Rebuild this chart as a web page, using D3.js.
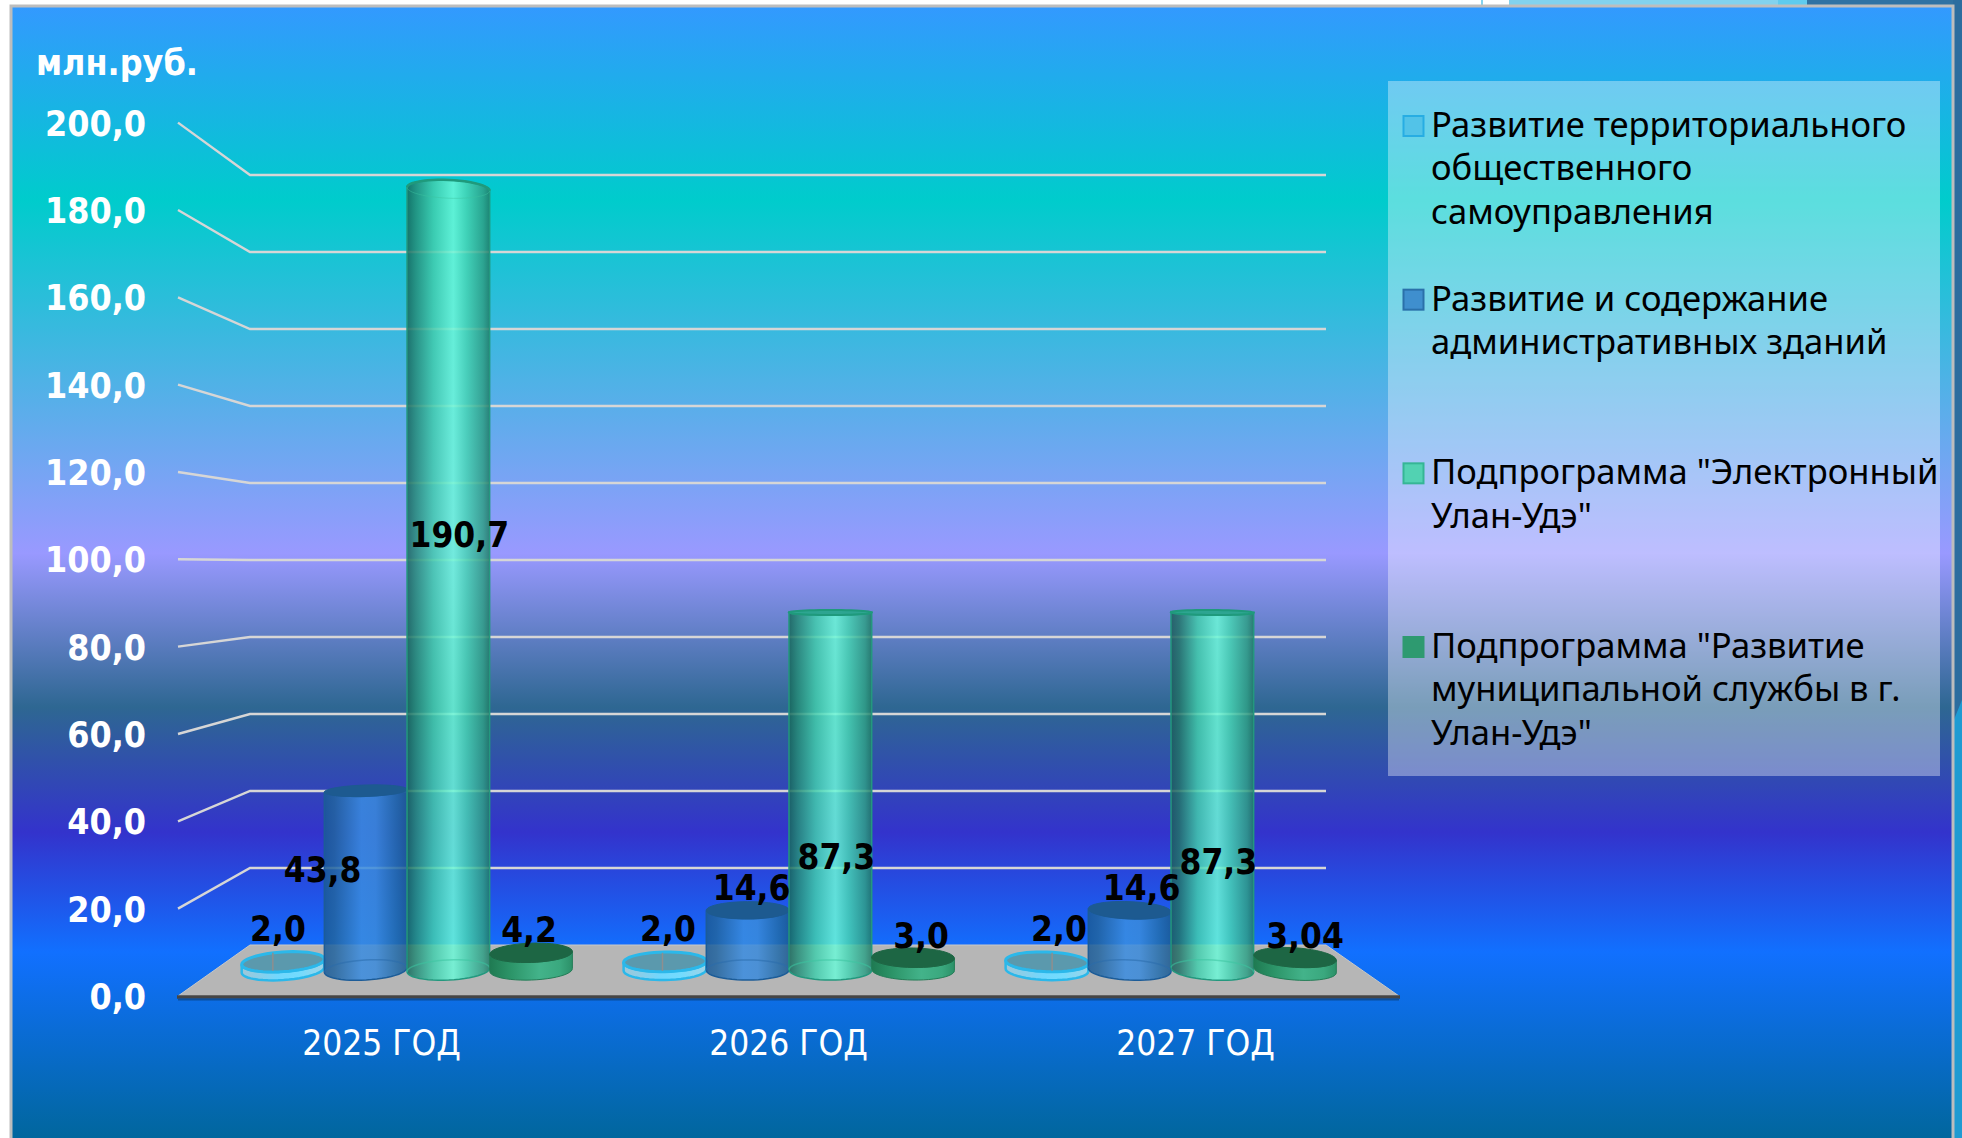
<!DOCTYPE html>
<html lang="ru"><head><meta charset="utf-8">
<script src="https://cdn.jsdelivr.net/npm/d3@7"></script>
<style>html,body{margin:0;padding:0;background:#fff;overflow:hidden}svg{display:block}
text{font-family:"DejaVu Sans Condensed","DejaVu Sans",sans-serif}</style></head><body>
<svg id="c" width="1962" height="1138"></svg>
<script>
const categories=["2025 ГОД","2026 ГОД","2027 ГОД"];
const seriesNames=["territorial","buildings","electronic","service"];
const territorial=[2.0,2.0,2.0];
const buildings=[43.8,14.6,14.6];
const electronic=[190.7,87.3,87.3];
const service=[4.2,3.0,3.04];
const territorialLabels=["2,0","2,0","2,0"];
const buildingsLabels=["43,8","14,6","14,6"];
const electronicLabels=["190,7","87,3","87,3"];
const serviceLabels=["4,2","3,0","3,04"];
const yTicks=[0,20,40,60,80,100,120,140,160,180,200];
const yTickLabels=["0,0","20,0","40,0","60,0","80,0","100,0","120,0","140,0","160,0","180,0","200,0"];
const unitLabel="млн.руб.";
const legendLines=[["Развитие территориального","общественного","самоуправления"],
 ["Развитие и содержание","административных зданий"],
 ["Подпрограмма \"Электронный","Улан-Удэ\""],
 ["Подпрограмма \"Развитие","муниципальной службы в г.","Улан-Удэ\""]];
const values=[territorial,buildings,electronic,service];
const barLabels=[territorialLabels,buildingsLabels,electronicLabels,serviceLabels];

// hand-placed label offsets of the original slide, relative to the bar top centre
const labelNudge=[[[-4,-21],[4,-21],[13,-21]],[[-42,91],[5,-10],[13,-10]],[[12,358],[7,256],[7,261]],[[-1,-11],[9,-10],[11,-10]]];

const FONT_TICK=35.5, FONT_LEG=34.6, FONT_DATA=35, FONT_CAT=35;
const svg=d3.select("#c"),defs=svg.append("defs");
const panel={x:11,y:6,w:1942,h:1140};
// outside fragments
svg.append("rect").attr("x",1481).attr("y",0).attr("width",2).attr("height",8).attr("fill","#82d2ee");
svg.append("rect").attr("x",1509).attr("y",0).attr("width",290).attr("height",8).attr("fill","#82d2ee");
svg.append("rect").attr("x",1778).attr("y",0).attr("width",30).attr("height",8).attr("fill","#5fcbee");
svg.append("rect").attr("x",1807).attr("y",0).attr("width",155).attr("height",8).attr("fill","#2f72a3");
svg.append("rect").attr("x",1953).attr("y",0).attr("width",9).attr("height",730).attr("fill","#2c6d9f");
svg.append("path").attr("d","M1953,722L1962,700L1962,1138L1953,1138Z").attr("fill","#1f9bd2");
const bg=defs.append("linearGradient").attr("id","bg").attr("x1",0).attr("x2",0).attr("y1",0).attr("y2",1);
[[0,"#3399ff"],[.17,"#00cccc"],[.48,"#9999ff"],[.615,"#2e6792"],[.725,"#3333cc"],[.83,"#1170ff"],[1,"#006699"]]
 .forEach(([o,c])=>bg.append("stop").attr("offset",o).attr("stop-color",c));
svg.append("rect").attr("x",panel.x).attr("y",panel.y).attr("width",panel.w).attr("height",panel.h).attr("fill","url(#bg)")
 .attr("stroke","#bdbdbd").attr("stroke-width",3);

// three scales for the perspective box
const yFront=d3.scaleLinear().domain([0,200]).range([996,122.6]);
const yBack=d3.scaleLinear().domain([0,200]).range([945,175]);
const yBar=d3.scaleLinear().domain([0,200]).range([970,151]);
const frontL=178,frontR=1399,backL=250,backR=1326,vanishX=788;
const horizon=yBar(100);
const x0=d3.scaleBand().domain(categories).range([216,1362]).paddingInner(.134).paddingOuter(.067);
const x1=d3.scaleBand().domain(seriesNames).range([0,x0.bandwidth()]);
const xCat=d3.scaleBand().domain(categories).range([frontL,frontR]);

// floor
svg.append("path").attr("d",`M${frontL},${yFront(0)}L${frontR},${yFront(0)}L${backR},${yBack(0)}L${backL},${yBack(0)}Z`)
 .attr("fill","#b6b6b6").attr("stroke","#c8c8c8").attr("stroke-width",1);
svg.append("line").attr("x1",frontL-1).attr("x2",frontR+1).attr("y1",yFront(0)+1).attr("y2",yFront(0)+1).attr("stroke","#454545").attr("stroke-width",3.5);
svg.append("line").attr("x1",frontL).attr("x2",frontR).attr("y1",yFront(0)+3.5).attr("y2",yFront(0)+3.5).attr("stroke","#0b4f9e").attr("stroke-width",2);
// gridlines
svg.append("g").selectAll("path").data(yTicks.filter(d=>d>0)).join("path")
 .attr("d",d=>`M${frontL},${yFront(d)}L${backL},${yBack(d)}L${backR},${yBack(d)}`)
 .attr("fill","none").attr("stroke","#d6d6d6").attr("stroke-width",2.4);

// gradients
const G={
 territorial:[[0,"#9fc7d8"],[.45,"#6fd8ff"],[.7,"#72dcff"],[1,"#9fd3e6"]],
 buildings:[[0,"#1a5a97"],[.12,"#22649f"],[.45,"#3a8ce0"],[.62,"#3a8adb"],[.88,"#226aa8"],[1,"#1c5a92"]],
 electronic:[[0,"#17665a"],[.1,"#258a76"],[.32,"#42ccac"],[.56,"#6cf8d8"],[.72,"#48d4b4"],[.92,"#2f9f86"],[1,"#217a66"]],
 service:[[0,"#1f7a52"],[.25,"#2c9468"],[.6,"#43b38a"],[.85,"#3aa87e"],[1,"#2c9068"]]
};
seriesNames.forEach((s,i)=>categories.forEach((c,j)=>{
 const g=defs.append("linearGradient").attr("id",`g${i}${j}`);
 G[s].forEach(([o,col],k)=>{
  let cc=col; if(s==="electronic"&&j===2&&k<2) cc=k?"#23746a":"#1d5a5c";
  g.append("stop").attr("offset",o).attr("stop-color",cc);
 });
}));
const STY=[
 {op:.98,edge:"#2bb8ea",ew:2.5,cap:"#5698ad",capO:.95,capE:"#2bb8ea",capW:3,base:null},
 {op:.86,edge:"#1c5c98",ew:1.5,cap:"#1d5a90",capO:1,capE:"#1d5a90",capW:1,base:"#2a6cab"},
 {op:.85,edge:"#23987e",ew:1.5,cap:"#26a98a",capO:.9,capE:"#1f9a7c",capW:2,base:"#3cc4a0"},
 {op:1,edge:"#237c56",ew:1,cap:"#1d6644",capO:1,capE:"#1d6644",capW:1,base:null}];

const rot=(x,y)=>1.93e-5*(x-vanishX)*(y-horizon);
const ryOf=y=>Math.max(2.5,.0245*Math.abs(y-horizon));
// sampled half ellipse: from the left end to the right end, through the front (side=1) or back (side=-1)
function halfEllipse(cx,cy,rx,ry,deg,side){
  const r=deg*Math.PI/180;
  return d3.range(0,25).map(k=>{
    const a=Math.PI*k/24, ex=-rx*Math.cos(a), ey=side*ry*Math.sin(a);
    return [cx+ex*Math.cos(r)-ey*Math.sin(r),cy+ex*Math.sin(r)+ey*Math.cos(r)];
  });
}
const line=d3.line();
const rx=x1.bandwidth()/2;
const gBars=svg.append("g");
const marks=[];
categories.forEach((c,j)=>seriesNames.forEach((s,i)=>{
  marks.push({c,j,s,i,v:values[i][j],label:barLabels[i][j],cx:x0(c)+x1(s)+rx,top:yBar(values[i][j])});
}));
marks.forEach(m=>{
  const st=STY[m.i],yb=yBar(0),yt=m.top,rb=rot(m.cx,yb),rt=rot(m.cx,yt),ryb=ryOf(yb),ryt=ryOf(yt);
  const above=yt<horizon;
  const botFront=halfEllipse(m.cx,yb,rx,ryb,rb,1),botBack=halfEllipse(m.cx,yb,rx,ryb,rb,-1);
  const topFront=halfEllipse(m.cx,yt,rx,ryt,rt,1),topBack=halfEllipse(m.cx,yt,rx,ryt,rt,-1);
  const topEdge=(above?topBack:topFront).slice().reverse();
  const g=gBars.append("g");
  g.append("path").attr("d",line([...botFront,...topEdge])+"Z")
   .attr("fill",`url(#g${m.i}${m.j})`).attr("fill-opacity",st.op).attr("stroke",st.edge).attr("stroke-width",st.ew);
  if(st.base) g.append("path").attr("d",line(botBack)).attr("fill","none").attr("stroke",st.base).attr("stroke-width",1.5).attr("opacity",.55);
  if(above){
    g.append("path").attr("d",line(topBack)).attr("fill","none").attr("stroke",st.capE).attr("stroke-width",2.5);
    g.append("path").attr("d",line(topFront)).attr("fill","none").attr("stroke",st.base).attr("stroke-width",1).attr("opacity",.45);
  } else {
    g.append("path").attr("d",line([...topFront,...topBack.slice().reverse()])+"Z")
     .attr("fill",st.cap).attr("fill-opacity",st.capO).attr("stroke",st.capE).attr("stroke-width",st.capW);
  }
  if(m.i===0){ // leader tick on the thin discs
    const lx=m.cx+(m.cx-vanishX)*.02;
    g.append("line").attr("x1",lx).attr("x2",lx).attr("y1",yt-9).attr("y2",yt+9).attr("stroke","#8f8f8f").attr("stroke-width",1.5);
  }
});
// data labels
svg.append("g").selectAll("text").data(marks).join("text")
 .attr("x",m=>m.cx+labelNudge[m.i][m.j][0]-1).attr("y",m=>m.top+labelNudge[m.i][m.j][1])
 .attr("text-anchor","middle").attr("font-size",FONT_DATA).attr("font-weight",700).attr("fill","#000").text(m=>m.label);
// y tick labels
svg.append("g").selectAll("text").data(yTicks).join("text")
 .attr("x",146).attr("y",d=>yFront(d)+13).attr("text-anchor","end")
 .attr("font-size",FONT_TICK).attr("font-weight",700).attr("fill","#fff").text((d,i)=>yTickLabels[i]);
svg.append("text").attr("x",36).attr("y",75).attr("font-size",FONT_TICK).attr("font-weight",700).attr("fill","#fff").text(unitLabel);
// category labels
svg.append("g").selectAll("text").data(categories).join("text")
 .attr("x",d=>xCat(d)+xCat.bandwidth()/2).attr("y",1055).attr("text-anchor","middle")
 .attr("font-size",FONT_CAT).attr("fill","#fff").text(d=>d);
// legend
svg.append("rect").attr("x",1388).attr("y",81).attr("width",552).attr("height",695).attr("fill","#fff").attr("fill-opacity",.36);
const keyFill=["#52c3e8","#3f8fce","#52d2b2","#2e9a70"],keyEdge=["#27ade3","#2a70aa","#35b695","#2e9a70"];
const legY=d3.scalePoint().domain(seriesNames).range([137,658]);
const lg=svg.append("g").selectAll("g").data(seriesNames).join("g");
lg.append("rect").attr("x",1403.5).attr("y",s=>legY(s)-21).attr("width",20).attr("height",20).attr("fill",(s,i)=>keyFill[i]).attr("stroke",(s,i)=>keyEdge[i]).attr("stroke-width",2);
lg.each(function(s,i){d3.select(this).selectAll("text").data(legendLines[i]).join("text")
  .attr("x",1431).attr("y",(d,k)=>legY(s)+k*43.3).attr("font-size",FONT_LEG).attr("fill","#000")
  .style("font-family","'Noto Sans',sans-serif").text(d=>d);});
</script></body></html>
